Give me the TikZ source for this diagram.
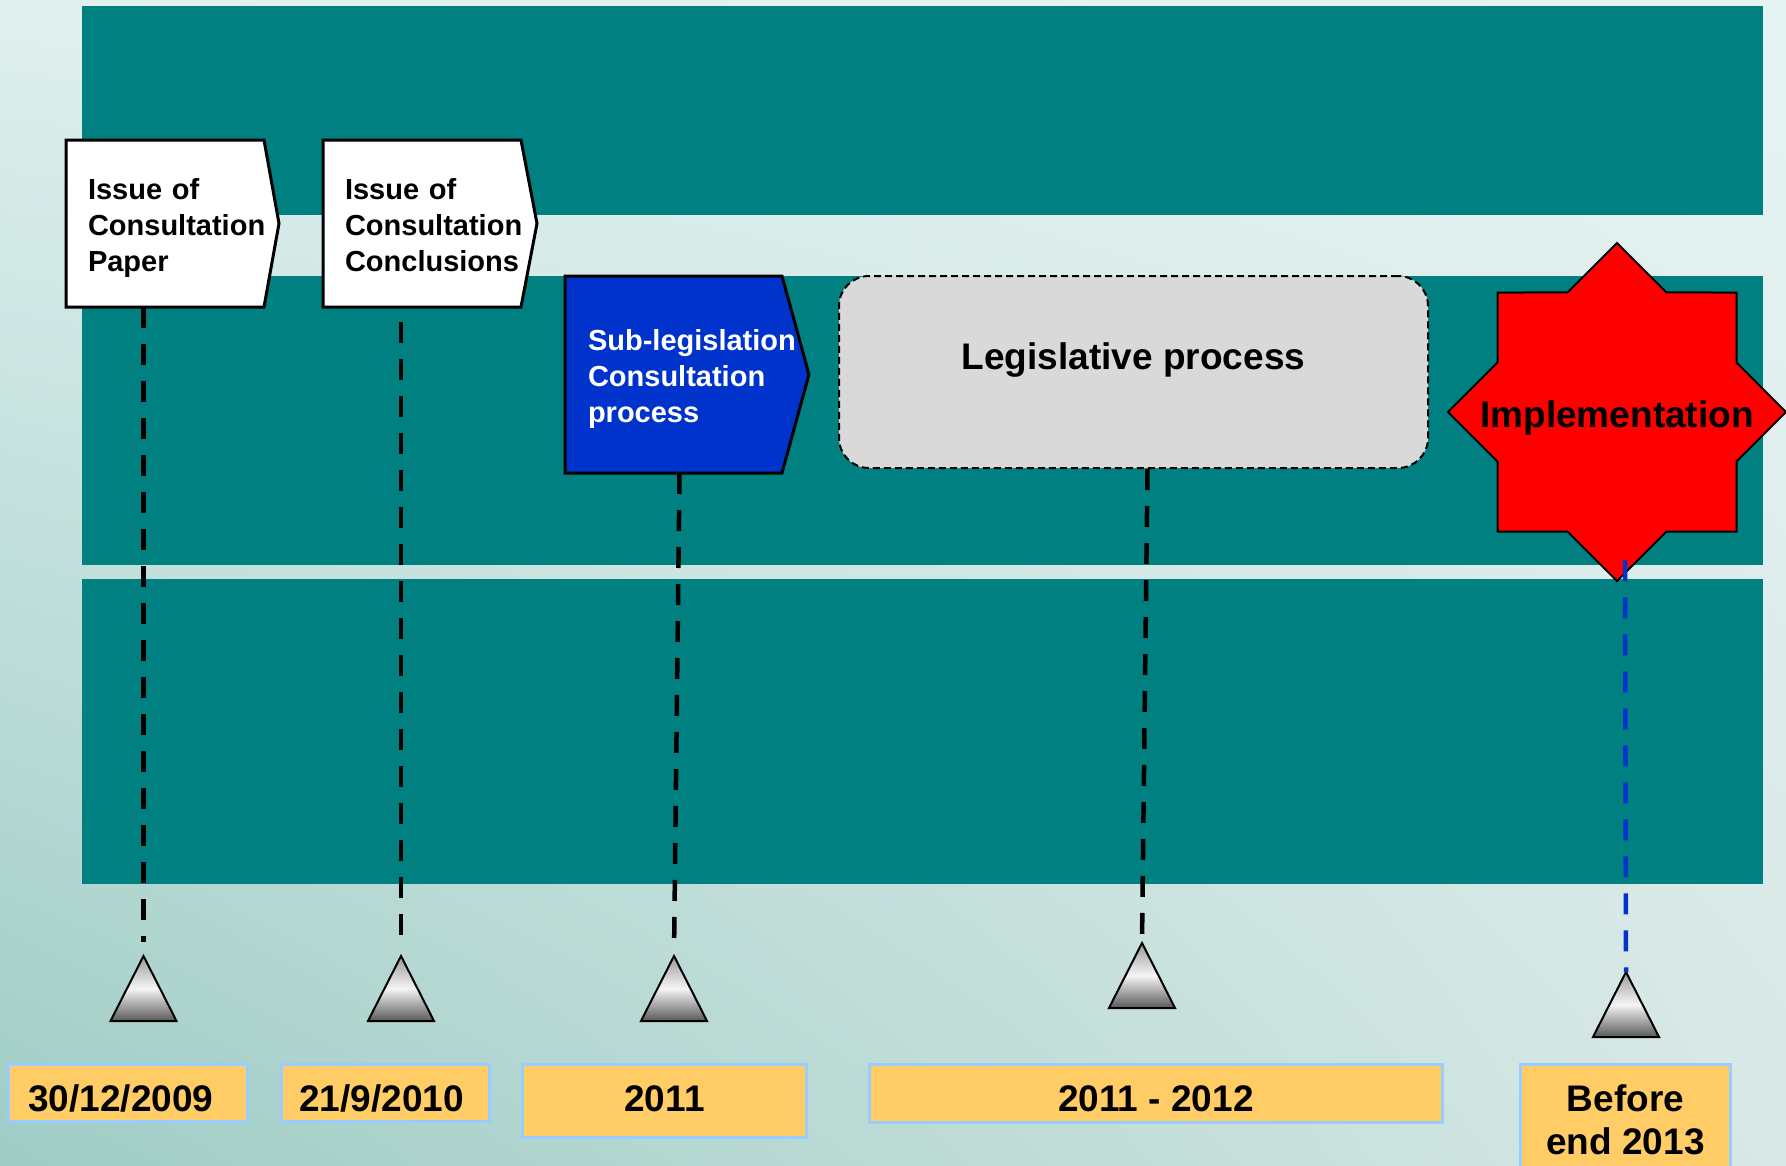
\documentclass[tikz,border=0pt]{standalone}
\usepackage{fontspec}
\setmainfont{Liberation Sans}
\usetikzlibrary{shapes.geometric,calc,shadings}
\definecolor{bandteal}{HTML}{008080}
\definecolor{boxblue}{HTML}{0033CC}
\definecolor{greybox}{HTML}{D9D9D9}
\definecolor{dateorange}{HTML}{FFCC66}
\definecolor{dateborder}{HTML}{99CCFF}
\definecolor{bgUL}{HTML}{E0F0EF}
\definecolor{bgUR}{HTML}{E6F3F3}
\definecolor{bgLL}{HTML}{9ECCC4}
\definecolor{bgLR}{HTML}{D8E8E5}
\definecolor{lineblue}{HTML}{0033CC}
\definecolor{starred}{HTML}{FF0000}

\pgfdeclarelayer{back}
\pgfdeclarelayer{mid}
\pgfsetlayers{back,mid,main}

\newcommand{\firststrut}{\rule{0pt}{30pt}}
\newcommand{\laststrut}{\rule[-6pt]{0pt}{6pt}}

\tikzset{
  arrowbox/.style={rectangle, anchor=north west, minimum height=167pt,
    inner xsep=22pt, inner ysep=0pt, outer sep=0pt, align=left,
    font=\fontsize{29}{36}\selectfont\bfseries},
  outline/.style={line width=3pt, line join=miter},
  timeline/.style={line width=4.5pt, dash pattern=on 21pt off 16pt},
  marker/.style={draw=black, line width=2pt, top color=black!40, bottom color=black!65, middle color=black!4},
  datebase/.style={rectangle, fill=dateorange, draw=dateborder, line width=3pt,
    inner sep=0pt, align=center, font=\fontsize{37}{43}\selectfont\bfseries},
  datebox/.style={datebase, text height=36pt, text depth=0pt},
}

\begin{document}
\begin{tikzpicture}[x=1pt,y=-1pt]
\useasboundingbox (0,0) rectangle (1786,1165);

\begin{pgfonlayer}{back}
  \shade[upper left=bgUL, upper right=bgUR, lower left=bgLL, lower right=bgLR] (0,0) rectangle (1786,1165);
  \fill[bandteal] (82,6) rectangle (1763,215);
  \fill[bandteal] (82,276) rectangle (1763,565);
  \fill[bandteal] (82,579) rectangle (1763,884);
\end{pgfonlayer}

% arrow boxes
\node[arrowbox, text width=154pt] (b1) at (66,140) {\mbox{\firststrut Issue of}\\\mbox{Consultation}\\\mbox{Paper\laststrut}};
\node[arrowbox, text width=154pt] (b2) at (323,140) {\mbox{\firststrut Issue of}\\\mbox{Consultation}\\\mbox{Conclusions\laststrut}};
\node[arrowbox, text width=171pt, inner xsep=23pt, minimum height=197pt, text=white] (b3) at (565,276) {\mbox{\firststrut Sub-legislation}\\\mbox{Consultation}\\\mbox{process\laststrut}};

\begin{pgfonlayer}{mid}
  \filldraw[outline, fill=white] (b1.north west) -- (b1.north east) -- ($(b1.east)+(15,0)$) -- (b1.south east) -- (b1.south west) -- cycle;
  \filldraw[outline, fill=white] (b2.north west) -- (b2.north east) -- ($(b2.east)+(16,0)$) -- (b2.south east) -- (b2.south west) -- cycle;
  \filldraw[outline, fill=boxblue] (b3.north west) -- (b3.north east) -- ($(b3.east)+(27,0)$) -- (b3.south east) -- (b3.south west) -- cycle;
\end{pgfonlayer}

% legislative process
\node[rectangle, rounded corners=30pt, fill=greybox, draw=black, line width=2pt,
  dash pattern=on 7pt off 4pt, minimum width=589pt, minimum height=192pt,
  text height=25pt, text depth=30pt, inner sep=0pt,
  font=\fontsize{37}{44}\selectfont\bfseries] (g) at (1133.5,372) {Legislative process};

% implementation star
\node[star, star points=8, star point ratio=1.3066, minimum size=338pt, inner sep=0pt,
  fill=starred, draw=black, line width=2pt] (impl) at (1617,412) {};
\node[anchor=base, inner sep=0pt, font=\fontsize{37}{44}\selectfont\bfseries] (impltext) at (1617,427) {Implementation};
\coordinate (implbot) at ($(impl.south)+(8,-22)$);

% markers
\coordinate (t1) at (143.5,956);
\coordinate (t2) at (401,956);
\coordinate (t3) at (674,956);
\coordinate (t4) at (1142,943);
\coordinate (t5) at (1626,972);
\foreach \t in {t1,t2,t3,t4,t5}
  \shadedraw[marker] (\t) -- ++(33,65) -- ++(-66,0) -- cycle;

% date boxes
\node[datebox, minimum width=239pt, minimum height=57pt] (d1) at (128,1093) {\hspace*{-14pt}30/12/2009};
\node[datebox, minimum width=208pt, minimum height=57pt] (d2) at (385.5,1093) {\hspace*{-8pt}21/9/2010};
\node[datebox, text depth=16pt, minimum width=284pt, minimum height=73pt] (d3) at (664.5,1101) {2011};
\node[datebox, minimum width=573pt, minimum height=58pt] (d4) at (1156,1093.5) {2011 - 2012};
\node[datebase, minimum width=210pt, minimum height=110pt] (d5) at (1625.5,1119.5) {Before\\end 2013};

% connectors
\draw[timeline, shorten >=14pt] (b1.south -| t1) -- (t1);
\draw[timeline, shorten <=15pt, shorten >=14pt] (b2.south -| t2) -- (t2);
\draw[timeline, shorten >=13pt] ($(b3.south)+(6,0)$) -- (t3);
\draw[timeline] ($(g.south)+(14,0)$) -- (t4);
\draw[timeline, draw=lineblue] (implbot) -- (t5);
\end{tikzpicture}
\end{document}
